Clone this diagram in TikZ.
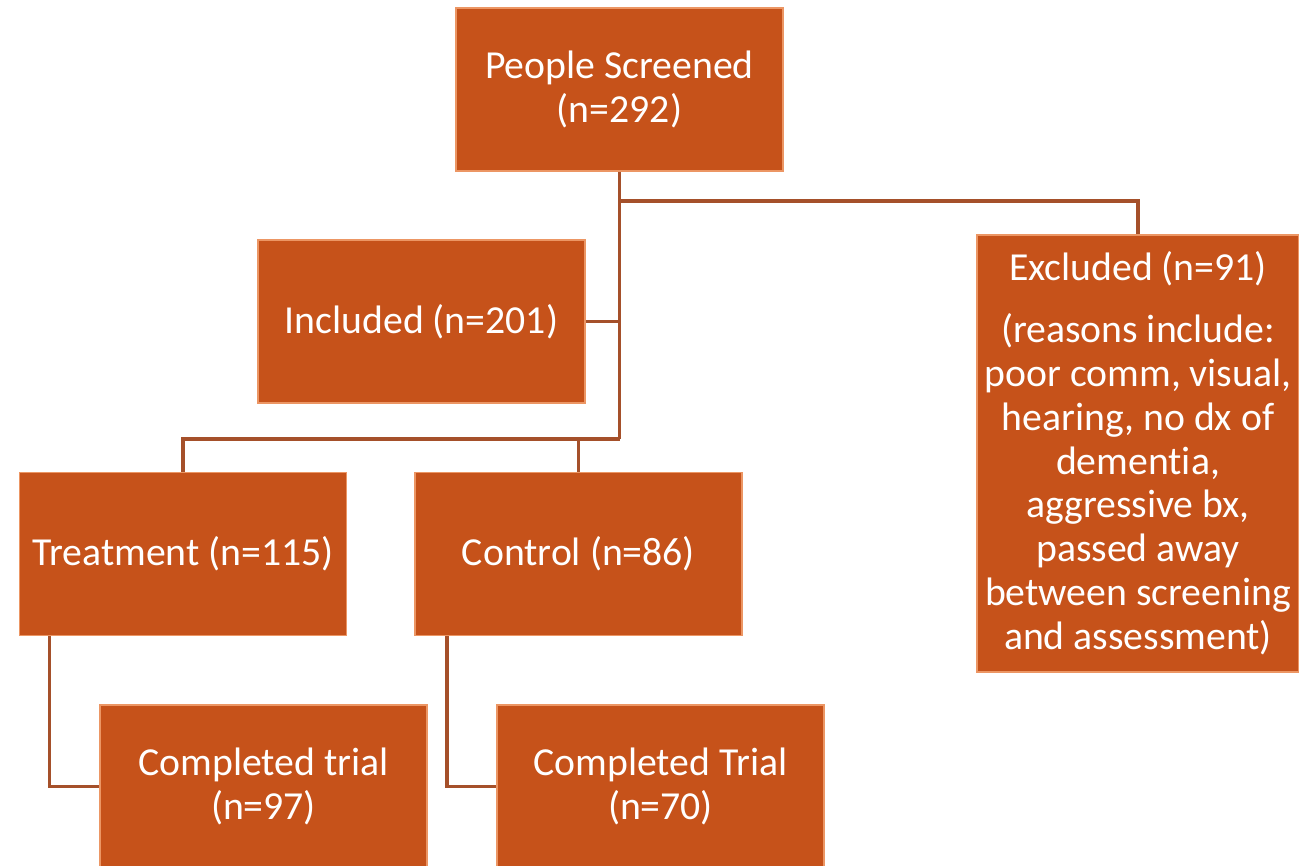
\documentclass[tikz,border=0pt]{standalone}
\usepackage{fontspec}
\setmainfont{Carlito}[Ligatures=NoCommon]
\usepackage{tikz}
\usetikzlibrary{positioning,calc}
\definecolor{boxfill}{RGB}{198,82,26}
\definecolor{boxedge}{RGB}{236,150,100}
\definecolor{linkcol}{RGB}{165,80,42}

\begin{document}
\begin{tikzpicture}[thick]
    % Styles
    \tikzstyle{stage} = [draw=boxedge, line width=1pt, fill=boxfill, rectangle, minimum width=6.54cm, minimum height=3.26cm, align=center, text=white, font=\fontsize{22.6}{25}\selectfont]
    \tikzstyle{link} = [draw=linkcol, line width=2pt]

    \useasboundingbox (0,0) rectangle (25.98,-17.32);

    % Boxes
    \node [stage] (Scr) at (12.39,-1.79) {People Screened\\(n=292)};
    \node [stage] (Inc) at (8.43,-6.43) {Included (n=201)};
    \node [stage, minimum width=6.44cm, minimum height=8.74cm] (Exc) at (22.76,-9.07)
        {Excluded (n=91)\\[10pt](reasons include:\\poor comm, visual,\\hearing, no dx of\\dementia,\\aggressive bx,\\passed away\\between screening\\and assessment)};
    \node [stage] (Trt) at (3.66,-11.08) {Treatment (n=115)};
    \node [stage] (Ctl) at (11.57,-11.08) {Control (n=86)};
    \node [stage] (CtA) at (5.27,-15.73) {Completed trial\\(n=97)};
    \node [stage] (CtB) at (13.21,-15.73) {Completed Trial\\(n=70)};

    % Junctions
    \coordinate (JExc) at ($(Scr.south)+(0,-0.58)$);
    \coordinate (JArm) at ($(Scr.south)+(0,-5.34)$);

    % Connectors
    \draw [link] (Scr.south) -- (JArm);
    \draw [link] (JExc) -| (Exc.north);
    \draw [link] (Inc.east) -- (Inc.east -| JArm);
    \draw [link] (JArm) -| (Trt.north);
    \draw [link] (JArm) -| (Ctl.north);
    \draw [link] ($(Trt.south west)+(0.62,0)$) |- (CtA.west);
    \draw [link] ($(Ctl.south west)+(0.66,0)$) |- (CtB.west);
\end{tikzpicture}
\end{document}
